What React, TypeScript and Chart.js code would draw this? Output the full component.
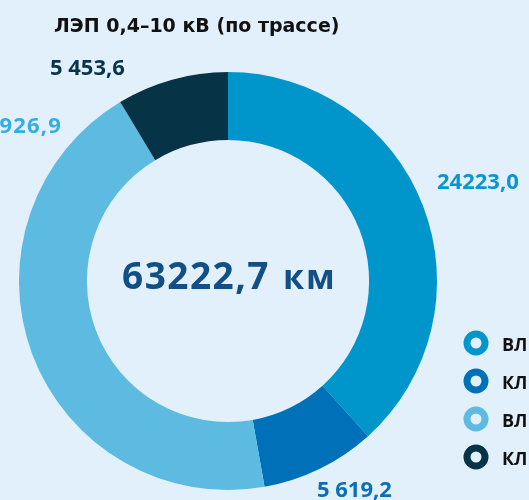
import React, { useEffect, useRef } from "react";
import { Chart, registerables } from "chart.js";

Chart.register(...registerables);

const title = "ЛЭП 0,4–10 кВ (по трассе)";
const categories = ["ВЛ 0,4 кВ", "КЛ 0,4 кВ", "ВЛ 6–10 кВ", "КЛ 6–10 кВ"];
const values = [24223.0, 5619.2, 27926.9, 5453.6];
const valueLabels = ["24223,0", "5 619,2", "27926,9", "5 453,6"];
const totalLabel = "63222,7";
const unit = "км";
const colors = ["#0095cb", "#0071b8", "#5dbae0", "#063346"];
const labelColors = ["#0a96cf", "#0b6fb5", "#35ade0", "#083549"];
const BG = "#e2f0fb";

const FONT = "'Open Sans', 'DejaVu Sans', sans-serif";
const TITLE_FONT = "'DejaVu Sans', sans-serif";

const textPlugin = {
  id: "texts",
  beforeDraw(chart: any) {
    const { ctx, width, height } = chart;
    ctx.save();
    ctx.fillStyle = BG;
    ctx.fillRect(0, 0, width, height);
    ctx.restore();
  },
  afterDraw(chart: any) {
    const { ctx } = chart;
    ctx.save();
    // title
    ctx.fillStyle = "#111111";
    ctx.font = `700 19px ${TITLE_FONT}`;
    ctx.textAlign = "left";
    ctx.textBaseline = "alphabetic";
    ctx.fillText(title, 54, 32, 289);

    // value labels
    ctx.font = `700 22px ${FONT}`;
    const pos: [number, number, CanvasTextAlign][] = [
      [437, 189, "left"],
      [317, 497, "left"],
      [62, 133, "right"],
      [50, 75, "left"],
    ];
    valueLabels.forEach((t, i) => {
      ctx.fillStyle = labelColors[i];
      ctx.textAlign = pos[i][2];
      (ctx as any).letterSpacing = i === 2 ? "1.2px" : "0px";
      ctx.fillText(t, pos[i][0], pos[i][1]);
    });
    (ctx as any).letterSpacing = "0px";

    // center total
    ctx.fillStyle = "#114f84";
    ctx.textAlign = "left";
    ctx.font = `700 37px ${FONT}`;
    (ctx as any).letterSpacing = "1.5px";
    ctx.fillText(totalLabel, 122, 289);
    ctx.font = `700 34px ${FONT}`;
    (ctx as any).letterSpacing = "2px";
    ctx.fillText(unit, 283, 289);
    (ctx as any).letterSpacing = "0px";

    // legend
    categories.forEach((c, i) => {
      const cy = 343 + i * 38;
      ctx.beginPath();
      ctx.arc(476, cy, 9, 0, Math.PI * 2);
      ctx.lineWidth = 7;
      ctx.strokeStyle = colors[i];
      ctx.fillStyle = BG;
      ctx.fill();
      ctx.stroke();
      ctx.fillStyle = "#111111";
      ctx.font = `700 18px ${FONT}`;
      ctx.textAlign = "left";
      ctx.fillText(c, 502, cy + 8);
    });
    ctx.restore();
  },
};

export default function App() {
  const ref = useRef<HTMLCanvasElement>(null);
  useEffect(() => {
    document.body.style.margin = "0";
    document.body.style.background = BG;
    const chart = new Chart(ref.current!, {
      type: "doughnut",
      data: {
        labels: categories,
        datasets: [
          {
            data: values,
            backgroundColor: colors,
            borderWidth: 0,
          },
        ],
      },
      options: {
        animation: false,
        responsive: false,
        cutout: "67.5%",
        layout: { padding: { top: 72, bottom: 10, left: 19, right: 92 } },
        plugins: {
          legend: { display: false },
          tooltip: { enabled: false },
          title: { display: false },
        },
      },
      plugins: [textPlugin],
    });
    return () => chart.destroy();
  }, []);
  return (
    <div style={{ width: 529, height: 500, overflow: "hidden" }}>
      <canvas ref={ref} width={529} height={500} style={{ display: "block" }} />
    </div>
  );
}
